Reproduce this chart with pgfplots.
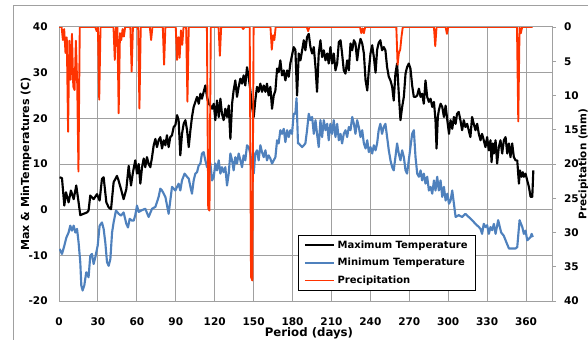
\documentclass[border=0pt]{standalone}
\usepackage{fontspec}
\setmainfont{DejaVu Sans}
\usepackage{pgfplots}
\pgfplotsset{compat=1.18}
\definecolor{maxc}{RGB}{0,0,0}
\definecolor{minc}{RGB}{79,129,189}
\definecolor{prc}{RGB}{255,51,0}
\definecolor{gridc}{RGB}{160,160,160}
\begin{document}
\begin{tikzpicture}
\useasboundingbox (0pt,0pt) rectangle (441pt,254.25pt);
\draw[gridc, line width=0.75pt] (9.75pt,-2pt) -- (9.75pt,249.75pt) -- (445pt,249.75pt);
\begin{axis}[
  at={(44.25pt,28.5pt)}, anchor=south west,
  scale only axis, width=369.75pt, height=205.5pt,
  xmin=0, xmax=380, ymin=-20, ymax=40,
  xtick={0,30,...,360}, ytick={-20,-10,...,40},
  xticklabels={0,30,60,90,120,150,180,210,240,270,300,330,360},
  yticklabels={-20,-10,0,10,20,30,40},
  grid=major, grid style={gridc, line width=0.75pt},
  axis line style={gridc, line width=0.75pt},
  major tick length=0pt,
  tick label style={font=\bfseries\fontsize{7.9}{9}\selectfont, text=black},
  xticklabel style={yshift=-9pt},
  yticklabel style={xshift=-5pt},
  xlabel={Period (days)}, ylabel={Max \& MinTemperatures (C)},
  xlabel style={font=\bfseries\fontsize{8.8}{10}\selectfont, at={(axis description cs:0.507,-0.118)}, anchor=center},
  ylabel style={font=\bfseries\fontsize{8.3}{10}\selectfont, at={(axis description cs:-0.067,0.5)}, anchor=center},
  every axis plot/.append style={line join=round},
]
\addplot[maxc, line width=1.6pt] coordinates {
(0.5,7.1) (2.3,6.9) (4.1,0.9) (5.4,3.8) (7.4,1.6) (9.2,4.2) (11.3,2.3) (13.3,5.3) (15.1,1.6) (16.4,-1.2) (19,-0.9) (21.6,-0.6) (22.8,-0.2) (24.1,3.1) (26.7,2.3) (29.3,3.4) (31.3,2) (33.1,6.7) (34.4,7.1) (36.5,1.6) (38.3,0.5) (40.1,0.1) (42.1,6) (44.7,7.4) (46,6.3) (47.8,4.5) (49.8,2.3) (51.9,4.5) (53.7,9.6) (55.5,5.3) (57,8.2) (58.8,10.8) (60.1,7.9) (61.4,10) (62.7,5.7) (64,9.3) (65.3,11.2) (66.5,9.3) (67.8,11.5) (69.1,10) (70.4,9.3) (71.7,11.5) (73,14.1) (74.3,15.5) (75.5,13.7) (76.8,15.2) (78.1,15.9) (79.4,13.4) (80.7,15.2) (82,14.1) (83.2,16.3) (84.5,13.7) (85.8,15.9) (87.1,16.3) (88.4,18.1) (89.7,18.5) (91,20.7) (92.2,19.6) (93.5,11.9) (94.8,16.6) (96.1,18.8) (97.4,19.6) (98.7,17.4) (100,13.7) (101.3,17.4) (102.5,20.3) (103.8,22.5) (105.1,23.6) (106.4,24.7) (107.7,23.2) (109,25.4) (110.2,24.3) (111.5,25.8) (112.8,27.2) (114.1,24.7) (115.4,23.2) (116.7,22.8) (118,22.1) (119.3,23.2) (120.5,19.6) (121.8,23.9) (123.1,20.3) (124.4,24.3) (125.6,21) (126.9,19.6) (128.2,22.1) (129.5,20.3) (130.8,22.8) (132.1,15.5) (133.4,23.2) (134.6,26.1) (135.9,28.3) (137.2,24.7) (138.5,26.9) (139.8,28.7) (141.1,27.6) (142.3,29.4) (143.6,27.2) (144.9,31.2) (146.2,29.1) (147.5,26.1) (148.8,22.5) (150.1,20.3) (151.3,23.9) (152.6,26.9) (153.9,25.8) (155.2,27.6) (156.5,25.8) (157.8,27.2) (159.1,25.8) (160.3,27.6) (161.6,25) (162.9,26.9) (164.2,22.1) (165.5,25) (166.8,26.1) (168.1,30.9) (169.3,30.1) (170.6,32.7) (171.9,29.4) (173.2,30.5) (174.5,28.3) (175.8,30.5) (177.1,29.1) (178.3,32) (179.6,33.8) (180.9,35.6) (182.2,35) (183.5,25) (184.8,34.2) (186.1,32.7) (187.4,34.9) (188.7,37.1) (189.9,34.9) (191.2,37.8) (192.5,38.5) (193.8,35.6) (195.1,34.2) (196.4,35.6) (197.7,31.2) (198.9,25.8) (200.2,34.2) (201.5,37.1) (202.8,33.4) (204.1,34.9) (205.4,32.7) (206.7,34.2) (207.9,32) (209.2,35.6) (210.5,32) (211.8,34.2) (213.1,30.5) (214.4,32) (215.7,36.7) (217,37.1) (218.2,34.2) (219.5,30.5) (220.8,29.8) (222.1,32.7) (223.4,30.5) (224.7,36.4) (226,34.9) (227.3,37.1) (228.5,36.4) (229.8,32.7) (231.1,35.6) (232.4,37.4) (233.7,36.4) (235,34.2) (236.3,28.3) (237.6,26.1) (238.8,30.5) (240.1,34.2) (241.4,36) (242.7,33.4) (244,30) (245.2,35) (246.4,36.5) (247.7,37.1) (249,34.9) (250.3,35.6) (251.6,34.9) (252.9,31.2) (254.2,29.1) (255.5,28.3) (256.8,26.9) (258,23.9) (259.3,29.8) (260.6,32) (261.9,25.4) (263.2,19.6) (264.5,22.5) (265.8,24.7) (267.1,29.8) (268.3,31.2) (269.6,32) (270.9,30.9) (272.2,27.2) (273.5,24.7) (274.8,24.7) (276.1,25) (277.4,26.5) (278.7,24.7) (279.9,25.4) (281.2,23.2) (282.5,28.3) (283.8,24.7) (285.1,23.6) (286.4,24.3) (287.7,22.5) (289,23.6) (290.2,19.6) (291,13.4) (292,20.3) (292.8,21.8) (294.1,23.2) (295.4,22.5) (296.7,20.3) (298,22.8) (299.3,19.6) (300.6,16.6) (301.8,19.6) (303.1,17.7) (304.4,20.3) (305.7,18.8) (306.8,21) (308.1,21.4) (309.4,19.6) (310.7,17.4) (312,19.6) (313.3,18.1) (314.6,18.8) (315.8,17.4) (317.1,15.9) (318.4,20.3) (319.7,18.8) (321,17.4) (322.3,18.8) (323.6,16.6) (324.9,15.2) (326.1,16.6) (327.4,15.2) (328.7,13.7) (330,15.9) (331.3,13) (332.6,15.2) (333.4,10.4) (334.4,14.5) (335.2,12.3) (336.5,15.2) (337.7,10.1) (339,13.7) (340.3,15.2) (341.6,12.3) (342.9,15.2) (344.2,15.9) (345.5,12.3) (346.8,14.5) (348,11.5) (349.3,14.5) (350.6,11.5) (351.9,10.8) (353.2,10.8) (354.5,5.7) (355.3,8.6) (356.5,7.2) (357.5,8.2) (358.3,7.2) (359.6,7.9) (360.9,6.4) (362.2,5) (363.5,2.8) (364.8,2.8) (365.6,8.6)
};
\addplot[minc, line width=1.6pt] coordinates {
(0.5,-8.6) (2.3,-9.7) (4.1,-7.9) (5.7,-6.1) (7.4,-5) (8.7,-3.5) (10,-4.6) (11.3,-3.5) (12.6,-5) (13.9,-4.2) (15.1,-7.2) (16.4,-11.5) (17.2,-16.6) (18.2,-17.7) (19.5,-16.6) (21,-13.7) (22.8,-14.8) (24.1,-10.1) (25.4,-9.7) (26.7,-11.9) (28,-10.4) (29.8,-7.9) (31.3,-3.5) (33.1,-2.8) (34.4,-4.2) (35.7,-7.2) (37,-11.5) (38.3,-12.3) (39.6,-10.8) (40.9,-5) (42.1,-2.8) (43.9,-0.2) (46,-0.9) (47.8,-1.3) (49.8,-0.6) (51.9,-3.1) (53.2,-3.9) (54.5,-2) (56.3,-2.4) (57.6,-2.4) (58.8,-1.2) (60.1,0.9) (61.4,-0.5) (64,-0.1) (66.5,0.2) (69.1,-1.6) (71.7,0.2) (74.3,0.6) (76.8,2.8) (78.1,4.6) (79.4,4.2) (82,2.8) (84.5,-0.9) (85.8,2) (87.1,5) (89.7,4.2) (92.2,5.7) (93.5,4.2) (94.8,6.4) (96.8,7.9) (98.7,7.2) (100,6.8) (101.3,5) (102.5,3.5) (103.8,6.4) (105.1,7.9) (106.4,8.2) (107.7,9.7) (109,10.1) (110.2,12.3) (111.5,12.6) (112.8,10.8) (114.1,9.3) (115.4,10.8) (116.7,10.1) (118,6.4) (119.3,7.2) (120.5,10.1) (121.8,8.6) (123.1,10.8) (124.4,7.9) (125.6,9.3) (126.9,8.2) (128.2,9.3) (129.5,5.3) (130.8,7.9) (132.1,12.3) (133.4,10.8) (134.6,8.6) (135.9,11.5) (137.2,10.1) (138.5,12.3) (139.8,10.8) (141.1,9.3) (142.3,11.9) (143.6,10.8) (144.9,14.1) (146.2,13.7) (147.5,12.3) (148.8,9.3) (150.1,7.9) (151.3,12.3) (152.6,13) (153.9,10.8) (155.2,14.1) (156.5,12.6) (157.8,11.5) (159.1,13) (160.3,10.8) (161.6,11.9) (162.9,11.2) (164.2,10.1) (165.5,10.8) (166.8,11.5) (168.1,15.2) (169.3,14.5) (170.6,17.4) (171.9,16.6) (173.2,17.7) (174.5,14.8) (175.8,17.4) (177.1,15.9) (178.3,17.4) (179.6,16.6) (180.9,21) (182.2,21) (183.1,24.4) (184.2,14.5) (184.8,14.5) (186.1,14.1) (187.4,13.7) (188.7,14.1) (189.9,14.5) (191.2,17.4) (192.5,21) (193.8,19.6) (195.1,20.3) (196.4,16.6) (197.7,19.6) (198.9,16.6) (200.2,13.7) (201.5,19.6) (202.8,15.9) (204.1,19.6) (205.4,17.4) (206.7,18.8) (207.9,15.2) (209.2,18.8) (210.5,16.6) (211.8,19.6) (213.1,15.9) (214.4,18.8) (215.7,15.2) (217,16.6) (218.2,14.5) (219.5,16.6) (220.8,17.4) (222.1,15.9) (223.4,18.1) (224.7,17.4) (226,20.3) (227.3,18.8) (228.5,16.6) (229.8,19.6) (231.1,18.1) (232.4,15.9) (233.7,17.4) (235,14.5) (236.3,13.4) (237.6,15.2) (238.8,12.6) (240.1,13.7) (241.4,12.3) (242.7,14.1) (244,13) (245.2,14.5) (246.4,17.4) (247.7,18.8) (249,16.6) (250.3,18.1) (251.6,18.8) (252.9,15.9) (254.2,13) (255.5,10.8) (256.8,9.3) (258,8.6) (259.3,11.5) (260.6,14.5) (261.9,12.3) (263.2,10.8) (264.5,13) (265.8,11.5) (267.1,8.6) (268.3,7.9) (269.6,10.8) (270.9,13.7) (272.2,16.6) (273.5,17.4) (274.8,11.5) (276.1,7.9) (277.4,7.2) (278.7,8.6) (279.9,6.4) (281.2,7.9) (282.5,5.7) (283.8,7.2) (285.1,4.2) (286.4,5) (287.7,3.5) (289,6.4) (290.2,4.2) (291.5,7.2) (292.8,4.2) (294.1,6.4) (295.4,2.8) (296.7,5) (298,2) (299.3,3.5) (300.6,1.3) (301.8,2) (303.1,4.2) (304.4,1.3) (305.7,-1.6) (308.1,-1.2) (310.7,-1.6) (313.3,-0.9) (315.8,-1.6) (318.4,-2.3) (321,-3.1) (323.6,-3.8) (324.9,-4.2) (326.1,-5.3) (327.4,-3.1) (328.7,-3.8) (330,-3.4) (331.3,-5.3) (332.6,-3.8) (333.9,-4.5) (335.2,-3.1) (336.5,-5.3) (338.5,-2.3) (340.8,-5) (342.8,-5.7) (344.2,-6.7) (346.8,-8.5) (349.3,-8.5) (351.9,-8.5) (353.2,-8.2) (355,-2.3) (357.1,-3.8) (358.3,-5.3) (359.6,-4.6) (360.9,-6.7) (363.5,-6) (364.3,-5.3) (365.2,-6)
};
\end{axis}
\begin{axis}[
  at={(44.25pt,28.5pt)}, anchor=south west,
  scale only axis, width=369.75pt, height=205.5pt,
  xmin=0, xmax=380, ymin=0, ymax=40, y dir=reverse,
  axis x line=none, axis y line*=right,
  ytick={0,5,...,40}, yticklabels={0,5,10,15,20,25,30,35,40},
  axis line style={gridc, line width=0.75pt},
  tick align=outside, major tick length=3pt, tick style={gridc, line width=0.75pt},
  tick label style={font=\bfseries\fontsize{7.9}{9}\selectfont, text=black},
  yticklabel style={xshift=2.5pt},
  ylabel={Precipitation (mm)},
  ylabel style={font=\bfseries\fontsize{7.8}{10}\selectfont, at={(axis description cs:1.064,0.5)}, anchor=center},
  legend style={at={(0.846,0.036)}, anchor=south east, draw=black, line width=0.75pt, fill=white,
    font=\bfseries\fontsize{7.5}{9}\selectfont, inner xsep=4pt, inner ysep=2pt, row sep=2pt},
  legend cell align=left,
  legend image code/.code={\draw[#1] (0pt,0pt) -- (21.75pt,0pt);},
  every axis plot/.append style={line join=round},
]
\addlegendimage{maxc, line width=1.6pt}
\addlegendentry{Maximum Temperature}
\addlegendimage{minc, line width=1.6pt}
\addlegendentry{Minimum Temperature}
\addplot[prc, line width=1.4pt] coordinates {
(0,0) (2,0) (3,1.9) (4,0.3) (5,3.8) (6,1.5) (7,15.3) (8,2) (9,7.7) (10,1) (11,8.7) (12,9.2) (13,2) (14,8) (15,21.1) (16,0) (28,0) (29,0.6) (30,0) (31,10.6) (32,0) (42,0) (43,4.8) (44,0) (45,0) (46,12.6) (47,0.9) (48,1.9) (49,0.3) (50,1.4) (51,0) (55,0) (56,6.5) (57,0) (61,0) (62,11.9) (63,0) (70,0) (71,1.9) (72,0) (80,0) (81,5.5) (82,0) (90,0) (91,4.8) (92,1.5) (93,4.5) (94,0.5) (95,2.6) (96,0) (98,0) (99,10.9) (100,0) (114,0) (115,26.5) (116,26.8) (117,0) (123,0) (124,4.2) (125,0) (141,0) (142,0.3) (143,0) (147,0) (148,36.5) (149,37) (150,0) (163,0) (164,3.3) (165,1.2) (166,1.9) (167,0) (191,0) (192,0.6) (193,0) (232,0) (233,0.9) (234,0.2) (235,0.9) (236,0) (260,0) (261,5.5) (262,3.8) (263,3.3) (264,1.4) (265,0) (289,0) (290,2.8) (291,0) (298,0) (299,1) (300,0) (353,0) (354,13.8) (355,0) (356,0.9) (357,0) (365,0)
};
\addlegendentry{Precipitation}
\end{axis}
\end{tikzpicture}
\end{document}
